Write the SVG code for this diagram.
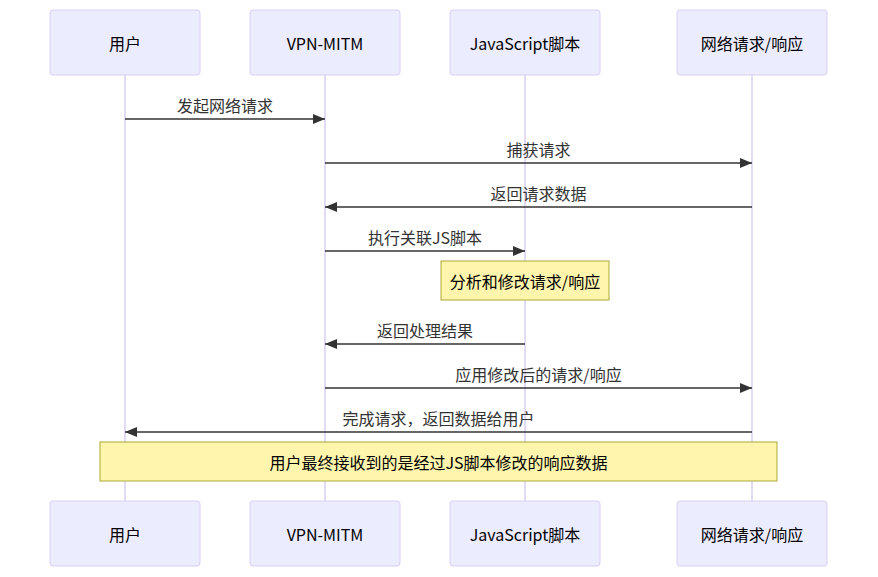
<svg xmlns="http://www.w3.org/2000/svg" width="878" height="577" viewBox="0 0 878 577">
<defs>
<style>
text{font-family:"Noto Sans CJK SC","Noto Sans",sans-serif;font-size:16px;text-anchor:middle;dominant-baseline:central}
.actor{fill:#ECECFF;stroke:#dacef2;stroke-width:1}
.actor-t{fill:#000}
.life{stroke:#dacef2;stroke-width:1.5;fill:none}
.msg{stroke:#333;stroke-width:1.5;fill:none}
.msg-t{fill:#333}
.note{fill:#fff5ad;stroke:#aaaa33;stroke-width:1}
.note-t{fill:#000}
</style>
<marker id="arr" viewBox="0 0 12 10" refX="12" refY="5" markerWidth="12" markerHeight="10" markerUnits="userSpaceOnUse" orient="auto">
<path d="M0,0 L12,5 L0,10 z" fill="#333"/>
</marker>
</defs>
<rect width="878" height="577" fill="#fff"/>
<g id="lifelines">
<line class="life" x1="125" y1="75" x2="125" y2="501"/>
<line class="life" x1="325" y1="75" x2="325" y2="501"/>
<line class="life" x1="525" y1="75" x2="525" y2="501"/>
<line class="life" x1="752" y1="75" x2="752" y2="501"/>
</g>
<g id="actor-user-top"><rect class="actor" x="50" y="10" width="150" height="65" rx="3"/><text class="actor-t" x="125" y="43">用户</text></g>
<g id="actor-vpn-top"><rect class="actor" x="250" y="10" width="150" height="65" rx="3"/><text class="actor-t" x="325" y="43">VPN-MITM</text></g>
<g id="actor-js-top"><rect class="actor" x="450" y="10" width="150" height="65" rx="3"/><text class="actor-t" x="525" y="43">JavaScript脚本</text></g>
<g id="actor-net-top"><rect class="actor" x="677" y="10" width="150" height="65" rx="3"/><text class="actor-t" x="752" y="43">网络请求/响应</text></g>
<g id="actor-user-bottom"><rect class="actor" x="50" y="501" width="150" height="65" rx="3"/><text class="actor-t" x="125" y="534">用户</text></g>
<g id="actor-vpn-bottom"><rect class="actor" x="250" y="501" width="150" height="65" rx="3"/><text class="actor-t" x="325" y="534">VPN-MITM</text></g>
<g id="actor-js-bottom"><rect class="actor" x="450" y="501" width="150" height="65" rx="3"/><text class="actor-t" x="525" y="534">JavaScript脚本</text></g>
<g id="actor-net-bottom"><rect class="actor" x="677" y="501" width="150" height="65" rx="3"/><text class="actor-t" x="752" y="534">网络请求/响应</text></g>
<g id="connectors">
<line class="msg" x1="125" y1="119" x2="325" y2="119" marker-end="url(#arr)"/>
<text class="msg-t" x="225" y="105">发起网络请求</text>
<line class="msg" x1="325" y1="163" x2="752" y2="163" marker-end="url(#arr)"/>
<text class="msg-t" x="538.5" y="149">捕获请求</text>
<line class="msg" x1="752" y1="207" x2="325" y2="207" marker-end="url(#arr)"/>
<text class="msg-t" x="538.5" y="193">返回请求数据</text>
<line class="msg" x1="325" y1="251" x2="525" y2="251" marker-end="url(#arr)"/>
<text class="msg-t" x="425" y="237">执行关联JS脚本</text>
<line class="msg" x1="525" y1="344" x2="325" y2="344" marker-end="url(#arr)"/>
<text class="msg-t" x="425" y="330">返回处理结果</text>
<line class="msg" x1="325" y1="388" x2="752" y2="388" marker-end="url(#arr)"/>
<text class="msg-t" x="538.5" y="374">应用修改后的请求/响应</text>
<line class="msg" x1="752" y1="432" x2="125" y2="432" marker-end="url(#arr)"/>
<text class="msg-t" x="438.5" y="418">完成请求，返回数据给用户</text>
</g>
<g id="note-js"><rect class="note" x="441" y="261" width="168" height="39"/><text class="note-t" x="525" y="281">分析和修改请求/响应</text></g>
<g id="note-final"><rect class="note" x="100" y="442" width="677" height="39"/><text class="note-t" x="438.5" y="462">用户最终接收到的是经过JS脚本修改的响应数据</text></g>
</svg>
